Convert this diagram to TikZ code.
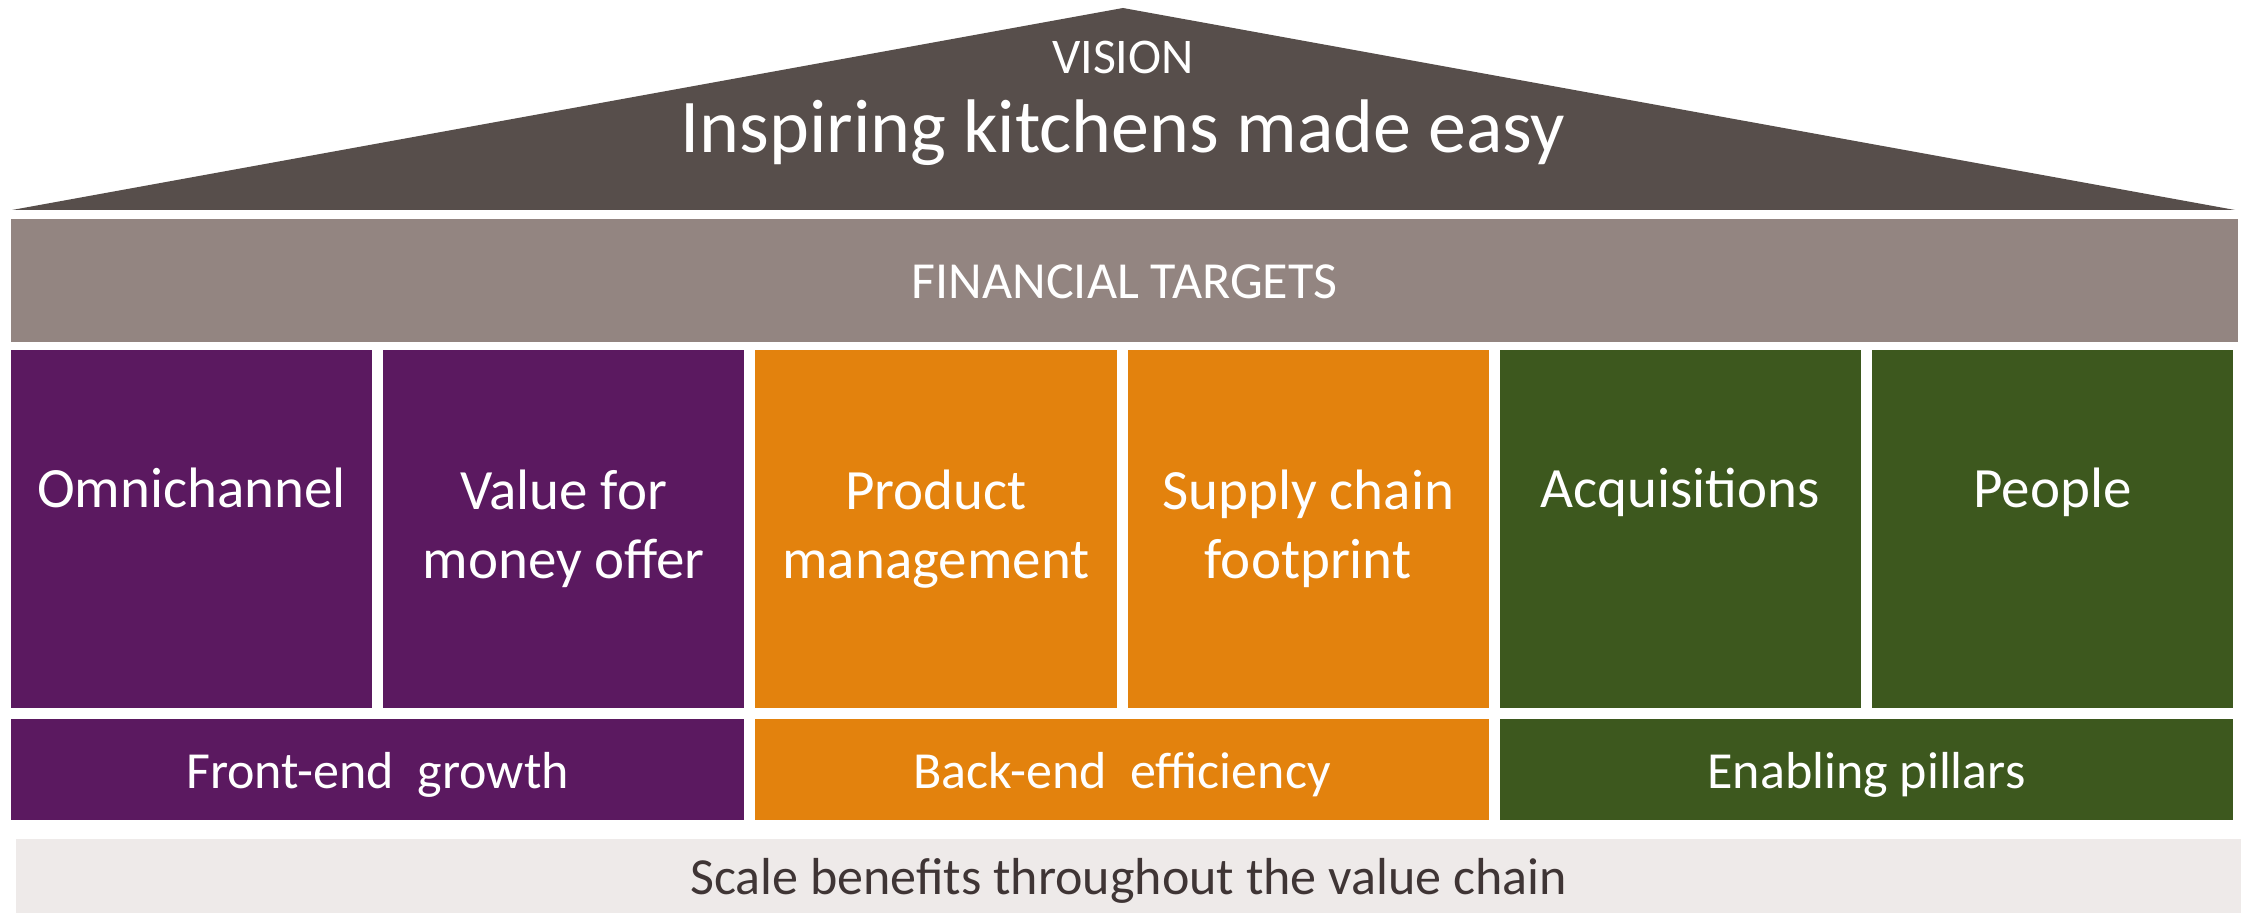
\documentclass[tikz,border=0pt]{standalone}
\usepackage{fontspec}
\setmainfont{Carlito}
\usetikzlibrary{positioning}
\definecolor{roofgray}{HTML}{574E4B}
\definecolor{targetgray}{HTML}{938581}
\definecolor{frontpurple}{HTML}{5B1960}
\definecolor{backorange}{HTML}{E3820D}
\definecolor{enablegreen}{HTML}{3D581E}
\definecolor{basegray}{HTML}{EEEAE9}
\definecolor{basetext}{HTML}{3F3535}
\begin{document}
\begin{tikzpicture}[x=0.01cm,y=-0.01cm]
\def\colw{3.61cm}
\def\colh{3.58cm}
\def\gap{0.11cm}
\tikzset{
base/.style={inner sep=0pt,outer sep=0pt,text=white,align=center},
pillar/.style={base,minimum width=\colw,minimum height=\colh,font=\fontsize{16.2}{19.6}\selectfont},
oneline/.style={text height=12pt,text depth=24pt},
flat/.style={text height=11.5pt,text depth=1pt},
group/.style={base,flat,minimum width=2*\colw+\gap,minimum height=1.01cm,font=\fontsize{14.8}{17.8}\selectfont},
band/.style={base,flat,minimum width=22.25cm,font=\fontsize{14.8}{17.8}\selectfont}}
\useasboundingbox (0,0) rectangle (2244,913);
% roof
\fill[roofgray] (12,210) -- (1123,8) -- (2235,210) -- cycle;
\node[base,anchor=base,font=\fontsize{14.2}{17}\selectfont] (vis) at (1123,74) {VISION};
\node[base,anchor=base,font=\fontsize{21.6}{26}\selectfont] (title) at (1123,153) {Inspiring kitchens made easy};
\node[band,fill=targetgray,minimum height=1.23cm] (fin) at (1124.5,280.5) {FINANCIAL TARGETS};
% pillars
\node[pillar,oneline,fill=frontpurple] (omni) at (191.5,529) {Omnichannel};
\node[pillar,fill=frontpurple,right=\gap of omni] (vfm) {Value for\\money offer};
\node[pillar,fill=backorange,right=\gap of vfm] (prod) {Product\\management};
\node[pillar,fill=backorange,right=\gap of prod] (supply) {Supply chain\\footprint};
\node[pillar,oneline,fill=enablegreen,right=\gap of supply] (acq) {Acquisitions};
\node[pillar,oneline,fill=enablegreen,right=\gap of acq] (people) {People};
\node[group,fill=frontpurple,below=\gap of omni.south west,anchor=north west] (front) {Front-end\ \ growth};
\node[group,fill=backorange,below=\gap of prod.south west,anchor=north west] (back) {Back-end\ \ efficiency};
\node[group,fill=enablegreen,below=\gap of acq.south west,anchor=north west] (enab) {Enabling pillars};
\node[band,fill=basegray,text=basetext,minimum width=22.23cm,minimum height=0.74cm] (scale) at (1128.5,876) {Scale benefits throughout the value chain};
\end{tikzpicture}
\end{document}
